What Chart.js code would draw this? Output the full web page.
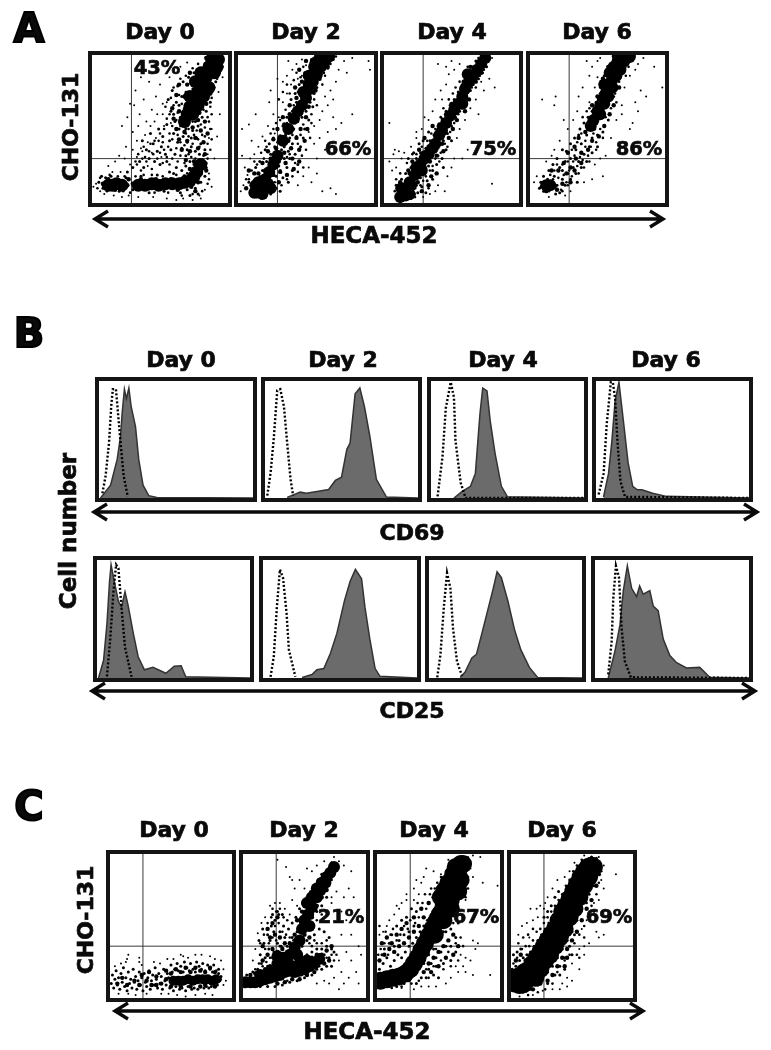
<!DOCTYPE html>
<html>
<head>
<meta charset="utf-8">
<script src="https://cdn.jsdelivr.net/npm/chart.js@4/dist/chart.umd.min.js"></script>
<style>
body { margin:0; background:#fff; }
#page { position:relative; width:771px; height:1050px; overflow:hidden; font-family:"DejaVu Sans",sans-serif; font-weight:bold; color:#0a0a0a; }
canvas { position:absolute; border:4px solid #151515; }
.t { position:absolute; transform:translate(-50%,-50%); white-space:nowrap; font-size:22px; line-height:1; z-index:5; -webkit-text-stroke:0.7px #0a0a0a; }
.v { transform:translate(-50%,-50%) rotate(-90deg); }
.big { font-size:40px; -webkit-text-stroke:2px #000; }
.pct { font-size:19.5px; }
svg { position:absolute; left:0; top:0; z-index:4; }
</style>
</head>
<body>
<div id="page">
<div class="t big" style="left:29px;top:28px">A</div>
<div class="t big" style="left:29px;top:333px">B</div>
<div class="t big" style="left:29px;top:806px">C</div>

<div class="t" style="left:160px;top:32px">Day 0</div>
<div class="t" style="left:306px;top:32px">Day 2</div>
<div class="t" style="left:452px;top:32px">Day 4</div>
<div class="t" style="left:597px;top:32px">Day 6</div>
<div class="t" style="left:181px;top:360px">Day 0</div>
<div class="t" style="left:343px;top:360px">Day 2</div>
<div class="t" style="left:503px;top:360px">Day 4</div>
<div class="t" style="left:666px;top:360px">Day 6</div>
<div class="t" style="left:174px;top:830px">Day 0</div>
<div class="t" style="left:304px;top:830px">Day 2</div>
<div class="t" style="left:434px;top:830px">Day 4</div>
<div class="t" style="left:562px;top:830px">Day 6</div>

<div class="t pct" style="left:157px;top:68px">43%</div>
<div class="t pct" style="left:348px;top:149px">66%</div>
<div class="t pct" style="left:493px;top:149px">75%</div>
<div class="t pct" style="left:639px;top:149px">86%</div>
<div class="t pct" style="left:341px;top:917px">21%</div>
<div class="t pct" style="left:476px;top:917px">67%</div>
<div class="t pct" style="left:609px;top:917px">69%</div>

<div class="t v" style="left:71px;top:127px">CHO-131</div>
<div class="t v" style="left:68px;top:531px;font-size:23px">Cell number</div>
<div class="t v" style="left:86px;top:920px">CHO-131</div>
<div class="t" style="left:374px;top:235px;font-size:23px">HECA-452</div>
<div class="t" style="left:412px;top:533px">CD69</div>
<div class="t" style="left:412px;top:711px">CD25</div>
<div class="t" style="left:367px;top:1031px;font-size:23px">HECA-452</div>

<svg width="771" height="1050" fill="none" stroke="#0a0a0a" stroke-width="3.4">
<path d="M95 219H663M108 211L95 219L108 227M650 211L663 219L650 227"/>
<path d="M94 512H757M107 504L94 512L107 520M744 504L757 512L744 520"/>
<path d="M92 691H755M105 683L92 691L105 699M742 683L755 691L742 699"/>
<path d="M115 1011H643M128 1003L115 1011L128 1019M630 1003L643 1011L630 1019"/>
</svg>
</div>

<script>
// x and y are percent of the panel, y counted from the bottom
var aGate = [29, 30];
var cGate = [27, 36];

// panel A, day 0
var a0Core = [[12,12],[15,12],[18,13],[22,12],[34,12],[39,12],[44,13],[49,12],[54,13],[59,13],[64,13],[68,14],[72,15],[75,18],[77,21],[80,26],[93,97],[90,94],[87,90],[84,85],[81,80],[78,75],[75,70],[72,65],[70,60],[74,60],[78,66],[82,72],[86,78],[68,55],[76,82],[80,88],[86,92],[90,88],[72,72],[80,70],[84,76],[92,92],[88,97]];
var a0Dense = [[59,64],[64,62],[69,66],[74,63],[79,61],[84,67],[60,57],[66,55],[72,57],[78,56],[83,55],[62,50],[68,48],[74,51],[80,49],[85,47],[64,43],[70,42],[76,44],[82,41],[66,36],[72,35],[78,37],[83,33],[69,29],[75,28],[81,27],[72,23],[62,73],[68,72],[74,74],[81,73],[87,74],[64,80],[70,80],[77,82],[83,84],[90,87],[72,88],[79,90],[85,93],[90,96],[84,98],[95,95],[8,13],[20,15],[26,12],[30,13],[36,16],[42,10],[47,16],[52,10],[58,16],[63,9],[68,18],[73,11],[78,14],[80,20],[84,22],[27,16],[76,8],[12,16],[17,9]];
var a0Mid = [[58,62],[61,55],[64,50],[67,45],[70,41],[73,38],[76,35],[79,33],[62,68],[66,72],[68,64],[71,54],[74,49],[77,44],[80,40],[83,36],[60,47],[63,41],[66,37],[69,32],[72,28],[75,26],[81,29],[84,27],[78,52],[81,58],[84,62],[87,68],[65,58],[69,50],[73,44],[56,70],[59,76],[63,79],[67,82],[71,85],[75,88],[79,91],[83,94],[88,86],[91,82],[86,74],[45,40],[48,35],[51,38],[54,33],[42,30],[46,28],[50,26],[55,28],[58,36],[40,36],[37,42],[43,47],[52,45],[49,50],[55,53],[35,28],[30,24],[26,21],[38,24],[8,10],[10,17],[14,18],[20,8],[25,17],[30,9],[36,18],[42,7],[48,19],[53,8],[60,20],[65,7],[70,9],[76,10],[80,14],[83,18],[84,24],[72,5],[78,6],[5,14],[7,18],[66,22],[62,24],[57,21],[69,25],[61,33],[57,42],[70,36],[76,55],[60,60],[64,66]];
var a0More = [[57,26],[63,28],[68,27],[73,31],[78,25],[85,30],[55,31],[59,30],[65,32],[71,33],[76,30],[82,32],[87,36],[53,36],[56,38],[62,37],[68,39],[74,40],[79,38],[85,40],[52,41],[59,43],[65,41],[71,45],[78,43],[83,45],[88,43],[50,47],[57,47],[63,46],[69,47],[75,46],[81,46],[87,50],[53,50],[59,52],[65,52],[71,50],[77,49],[83,51],[86,55],[55,57],[62,56],[68,59],[74,55],[80,53],[85,58],[88,60],[57,60],[63,61],[67,62],[72,61],[77,62],[82,63],[87,65],[54,65],[60,66],[66,67],[71,69],[76,67],[83,69],[88,71],[58,71],[64,73],[69,75],[74,77],[79,78],[86,81],[90,78],[60,78],[65,84],[69,86],[74,91],[78,94],[82,89],[94,88],[92,84],[96,92],[33,26],[36,22],[40,28],[44,23],[48,30],[52,27],[34,33],[38,38],[42,35],[46,42],[50,34],[32,28],[37,30],[45,33],[49,42],[43,40],[39,31],[4,10],[6,17],[11,8],[13,19],[19,18],[23,8],[24,18],[28,7],[32,18],[38,19],[44,19],[46,7],[52,18],[56,7],[62,19],[66,5],[70,20],[74,6],[81,8],[85,13],[86,16]];
var a0Sparse = [[22,52],[26,58],[28,67],[30,48],[32,76],[35,60],[38,70],[40,55],[44,63],[47,72],[50,80],[42,82],[36,85],[33,42],[25,38],[20,32],[17,28],[24,30],[12,25],[6,8],[3,13],[9,6],[16,5],[27,5],[34,4],[55,3],[62,2],[74,2],[80,3],[86,20],[88,11],[90,30],[92,45],[94,60],[93,75],[96,85],[52,60],[57,85],[60,90],[65,92],[70,95],[55,68],[46,55],[43,52],[39,46],[34,52],[30,36],[28,26],[31,66],[37,35],[41,41],[47,44],[53,52],[48,60],[44,34],[41,25],[36,37],[33,31],[51,31],[52,67],[58,54],[88,50],[86,44],[85,33],[83,9],[79,5],[67,3],[45,4],[22,4],[1,11],[15,21],[21,21]];

// panel A, day 2
var a2Core = [[14,10],[17,8],[19,12],[15,14],[20,16],[23,21],[26,26],[29,32],[47,66],[50,71],[53,77],[55,82],[58,87],[61,92],[64,96],[67,99],[52,86],[56,92],[60,98],[33,42],[37,50],[41,57],[44,62],[48,75],[52,80],[57,95],[12,7],[13,12],[18,6],[22,13],[24,10]];
var a2Dense = [[15,20],[20,22],[26,19],[31,21],[36,19],[41,23],[18,27],[24,30],[30,28],[35,27],[40,30],[45,28],[22,35],[28,37],[34,34],[39,37],[45,36],[26,43],[31,45],[37,42],[43,44],[49,42],[29,50],[34,53],[40,50],[46,50],[51,50],[33,58],[38,60],[44,57],[50,58],[38,66],[43,71],[52,65],[42,78],[47,82],[57,76],[60,84],[45,90],[50,96],[66,92],[10,12],[24,8],[30,14],[12,20],[6,10],[8,22]];
var a2Mid = [[10,8],[12,15],[22,10],[25,14],[28,18],[31,22],[18,22],[21,28],[24,33],[27,38],[30,25],[34,30],[37,35],[40,40],[43,45],[32,36],[35,46],[38,44],[30,44],[33,52],[36,58],[40,62],[43,68],[46,73],[49,78],[44,55],[47,58],[50,62],[53,68],[41,50],[45,62],[26,44],[23,40],[20,36],[29,50],[34,38],[38,30],[42,33],[46,38],[36,24],[40,22],[44,26],[33,17],[37,14],[28,10],[31,8],[24,6],[19,4],[14,4],[8,14],[16,28],[13,24],[56,74],[58,78],[60,84],[63,88],[66,91],[70,97],[49,50],[52,56],[48,44],[55,65],[42,74],[39,70],[45,80],[49,88]];
var a2More = [[8,16],[11,10],[16,18],[22,17],[27,14],[32,12],[36,16],[40,18],[44,21],[48,24],[14,26],[19,30],[25,27],[31,31],[36,31],[42,27],[47,32],[17,34],[21,38],[27,34],[33,40],[38,33],[44,40],[50,36],[24,47],[29,41],[35,49],[40,46],[46,46],[53,44],[28,54],[31,56],[36,54],[42,54],[48,53],[54,54],[35,63],[41,66],[47,62],[54,60],[58,66],[38,74],[44,75],[50,68],[56,70],[41,83],[46,85],[50,83],[62,80],[43,88],[48,92],[54,97],[64,86],[68,94],[72,99],[33,75],[36,80],[30,70],[26,50],[20,42],[12,28],[10,22],[6,16],[17,3]];
var a2Sparse = [[3,32],[5,24],[7,19],[4,12],[2,8],[9,30],[12,33],[15,38],[18,45],[10,42],[22,52],[26,60],[30,58],[33,68],[36,74],[39,80],[36,86],[40,90],[43,94],[47,97],[50,93],[47,86],[44,84],[33,82],[37,96],[52,48],[56,52],[60,56],[62,62],[66,66],[70,70],[68,76],[72,82],[74,90],[78,96],[84,98],[96,96],[97,90],[80,88],[60,44],[66,48],[72,50],[64,36],[58,30],[52,24],[48,18],[54,14],[44,12],[62,8],[68,10],[72,6],[58,20],[23,68],[3,50],[8,53],[13,60],[24,76],[29,84],[27,47],[64,72],[70,58],[76,54],[84,60],[56,40]];

// panel A, day 4
var a4Core = [[14,7],[17,10],[16,5],[20,12],[23,19],[27,26],[30,30],[38,40],[43,49],[46,54],[49,59],[52,63],[55,67],[58,72],[60,77],[63,82],[66,86],[69,90],[72,94],[75,98],[62,87],[58,67],[33,33],[36,37],[41,46],[12,4],[19,6],[13,10],[19,14],[24,24],[28,22]];
var a4Dense = [[12,14],[19,20],[25,14],[30,24],[35,18],[24,24],[29,34],[34,28],[39,32],[44,35],[33,38],[38,45],[43,40],[48,44],[41,53],[36,52],[30,44],[26,36],[51,50],[54,56],[46,60],[50,67],[60,62],[63,70],[21,28],[18,22],[10,10],[22,6],[28,8],[33,12],[39,20],[68,82],[72,88],[59,82],[64,92]];
var a4Mid = [[10,6],[12,12],[18,16],[21,8],[24,12],[27,17],[30,20],[33,25],[20,24],[24,30],[27,34],[31,37],[34,32],[37,36],[40,32],[34,42],[37,46],[41,44],[44,42],[47,47],[50,52],[40,52],[43,57],[46,62],[49,66],[52,70],[53,58],[56,62],[55,75],[58,80],[61,70],[64,76],[66,80],[70,84],[73,88],[76,92],[60,86],[64,92],[68,96],[26,40],[29,42],[33,48],[22,34],[16,20],[13,16],[9,12],[25,7],[28,11],[32,15],[36,22],[39,26],[43,30],[46,36],[50,42],[44,24],[36,16],[20,3],[14,2],[31,7],[18,30]];
var a4More = [[8,8],[11,3],[15,12],[18,3],[21,16],[23,10],[26,20],[29,15],[31,28],[34,22],[35,35],[38,30],[40,37],[42,34],[45,40],[47,52],[42,58],[44,64],[48,70],[51,74],[53,78],[56,82],[54,64],[58,64],[61,74],[65,78],[68,78],[71,86],[74,90],[77,96],[70,98],[66,92],[62,92],[24,33],[28,38],[21,33],[17,27],[12,20],[9,16],[32,42],[35,47],[38,50],[42,50],[49,48],[52,54],[55,60],[60,68],[47,38],[41,28],[36,25],[31,18],[27,12],[23,4],[33,10]];
var a4Sparse = [[4,54],[8,36],[7,33],[11,35],[15,34],[20,38],[24,48],[28,50],[30,58],[36,62],[38,70],[42,76],[46,80],[48,87],[52,90],[56,94],[40,94],[46,92],[50,96],[72,82],[78,84],[82,78],[80,98],[74,76],[68,70],[64,64],[70,60],[60,56],[56,50],[54,44],[62,36],[58,30],[52,30],[50,24],[47,18],[40,12],[38,8],[45,8],[80,13],[4,28],[13,30],[6,22],[9,24],[29,4],[34,6],[24,44],[33,56],[43,70]];

// panel A, day 6
var a6Core = [[50,62],[52,66],[54,70],[56,74],[58,78],[60,82],[62,86],[64,90],[66,94],[68,98],[71,99],[55,80],[59,88],[47,56],[45,52],[12,12],[15,12],[52,60],[55,67],[58,72],[61,78],[64,86],[67,90],[70,96],[74,99],[65,99],[62,92]];
var a6Dense = [[12,8],[16,14],[20,9],[24,13],[27,20],[21,22],[25,27],[30,24],[34,30],[28,34],[33,38],[38,34],[43,36],[36,44],[41,48],[46,42],[51,45],[55,52],[44,55],[49,54],[59,60],[62,66],[46,66],[50,72],[66,78],[54,84],[58,92],[62,96],[70,92],[74,96],[33,22],[38,27],[16,22],[30,14]];
var a6Mid = [[10,8],[13,16],[16,10],[18,18],[20,12],[22,24],[24,16],[26,28],[28,20],[30,30],[32,24],[34,36],[36,28],[38,40],[40,33],[42,46],[44,38],[46,44],[48,50],[50,46],[37,50],[40,54],[43,58],[30,40],[33,44],[36,46],[46,62],[49,68],[52,74],[55,86],[57,90],[60,94],[63,98],[67,86],[70,90],[72,95],[64,82],[60,76],[56,66],[53,58],[20,30],[24,36],[27,35],[17,26],[14,22],[10,18],[8,14],[22,7],[26,12],[30,16],[34,20],[38,24],[42,28],[46,34],[50,38],[54,48],[58,56],[62,72],[7,10],[19,6],[24,22],[35,14]];
var a6More = [[8,11],[11,14],[14,8],[17,16],[19,11],[21,17],[23,9],[25,19],[27,14],[29,22],[31,18],[32,28],[35,25],[37,31],[39,29],[41,38],[43,32],[45,38],[47,47],[49,41],[52,50],[54,44],[56,58],[35,41],[38,47],[41,42],[44,50],[39,58],[42,62],[47,52],[50,58],[52,78],[48,62],[44,64],[56,88],[58,82],[60,90],[63,74],[66,82],[68,88],[71,86],[73,92],[76,96],[64,68],[60,64],[28,28],[24,26],[20,26],[15,19],[18,22],[31,36],[33,32],[49,36],[44,28],[40,24],[36,20],[28,12],[24,8]];
var a6Sparse = [[9,70],[19,72],[18,66],[25,56],[28,50],[22,42],[18,36],[16,32],[32,56],[35,62],[36,72],[39,78],[44,68],[48,78],[50,85],[44,86],[46,92],[52,98],[42,96],[50,96],[70,78],[74,86],[78,90],[80,94],[84,98],[92,92],[98,78],[86,72],[80,62],[76,54],[74,50],[68,60],[64,56],[60,44],[66,40],[56,32],[52,30],[48,26],[54,18],[46,16],[40,14],[30,8],[26,5],[14,4],[5,18],[3,14],[12,28],[78,68],[82,76],[68,66]];

// panel C, day 0
var c0Core = [[52,12],[56,12],[60,12],[64,13],[68,12],[72,13],[76,13],[80,13],[84,12],[87,13]];
var c0Dense = [[30,12],[34,9],[38,15],[42,10],[46,13],[50,8],[50,17],[54,20],[58,8],[58,18],[62,21],[66,8],[66,18],[70,21],[74,8],[74,19],[78,9],[78,18],[82,21],[86,8],[86,18],[90,13],[46,19],[38,9],[10,14],[6,10],[20,12],[26,16],[14,9],[24,9],[32,18]];
var c0Mid = [[1,10],[2,16],[3,7],[4,13],[5,19],[6,9],[7,14],[8,6],[9,17],[10,11],[11,21],[12,8],[13,14],[14,5],[15,18],[16,10],[17,13],[18,7],[19,20],[20,11],[21,15],[22,6],[23,12],[24,18],[25,9],[26,14],[27,5],[28,17],[29,11],[30,8],[31,14],[32,19],[33,6],[34,12],[35,16],[36,9],[37,21],[38,13],[39,7],[40,17],[41,10],[42,15],[43,6],[44,20],[45,12],[46,9],[47,17],[48,14],[49,7],[50,23],[51,18],[52,5],[53,20],[54,8],[55,24],[56,19],[57,6],[58,22],[59,7],[60,18],[61,25],[62,5],[63,21],[64,8],[65,19],[66,24],[67,6],[68,20],[69,7],[70,18],[71,25],[72,6],[73,22],[74,8],[75,20],[76,24],[77,7],[78,19],[79,8],[80,23],[81,7],[82,20],[83,8],[84,18],[85,23],[86,8],[87,19],[88,9],[89,17],[90,12],[91,15],[89,20]];
var c0More = [];
var c0Sparse = [[4,22],[9,24],[13,25],[15,30],[14,27],[24,25],[26,23],[24,28],[7,3],[15,3],[21,2],[30,3],[42,3],[48,3],[55,2],[62,1],[70,2],[78,3],[84,2],[60,29],[64,28],[58,30],[70,30],[75,30],[82,29],[86,27],[91,26],[93,20],[95,12],[93,9],[47,27],[52,27],[41,24],[36,25]];

// panel C, day 2
var c2Core = [[2,11],[6,11],[10,11],[14,12],[18,13],[22,14],[26,15],[30,16],[34,18],[38,19],[42,18],[46,19],[50,20],[54,22],[58,24],[62,27],[28,24],[33,28],[38,30],[42,35],[46,40],[48,48],[50,54],[53,58],[56,63],[60,70],[63,75],[67,80],[71,87],[74,91],[14,16],[22,18],[30,20],[38,23],[46,24],[28,29],[34,24],[44,30],[52,26],[54,50],[52,66],[56,70],[60,76],[64,80],[68,84]];
var c2Dense = [[6,16],[10,17],[14,18],[18,20],[22,22],[26,22],[30,24],[16,26],[20,30],[24,34],[28,32],[32,34],[36,26],[40,24],[44,24],[48,26],[52,28],[56,28],[60,30],[64,30],[68,33],[72,36],[22,42],[26,44],[30,42],[34,38],[38,38],[42,44],[46,48],[50,44],[54,42],[44,54],[48,60],[52,64],[56,56],[60,64],[64,70],[68,75],[58,70],[62,80],[66,84],[70,84],[16,36],[20,48],[24,52],[28,56],[66,24],[70,26],[52,16],[46,13],[40,13],[34,11],[28,10],[58,18]];
var c2Mid = [[8,18],[12,20],[15,24],[18,28],[21,34],[14,30],[17,38],[20,44],[23,50],[26,54],[29,58],[13,40],[16,48],[22,40],[25,46],[28,38],[31,36],[34,42],[37,48],[40,52],[43,56],[46,62],[49,66],[52,70],[55,74],[58,78],[61,82],[64,86],[68,88],[72,94],[44,46],[40,42],[36,36],[30,46],[33,50],[24,58],[28,60],[32,58],[20,22],[24,28],[44,26],[48,28],[52,30],[56,32],[60,34],[64,34],[68,36],[72,34],[66,30],[70,28],[74,32],[60,20],[64,20],[68,22],[72,22],[56,16],[50,14],[44,12],[38,11],[32,9],[26,8],[20,8],[14,8],[8,8],[3,16],[47,52],[55,48],[58,44],[52,40],[48,36],[60,60],[64,64],[68,70],[55,56],[62,48],[66,46],[70,42]];
var c2More = [[10,20],[13,24],[16,22],[19,25],[22,28],[25,32],[18,34],[21,38],[24,42],[27,40],[30,36],[14,38],[17,44],[20,52],[23,56],[26,50],[29,52],[32,46],[35,44],[38,42],[41,40],[27,60],[30,62],[33,56],[36,54],[24,62],[56,36],[60,38],[64,38],[68,40],[72,30],[74,26],[76,30],[54,38],[58,40],[50,46],[52,52],[46,54],[60,54],[64,58],[50,58],[58,66],[62,74],[70,78],[72,82],[74,86],[66,78],[76,92],[20,18],[36,12],[48,16],[62,22],[68,28]];
var c2Sparse = [[10,34],[8,26],[12,45],[15,52],[18,56],[22,64],[26,66],[30,66],[34,62],[38,58],[40,68],[42,76],[38,84],[40,82],[35,91],[28,96],[52,90],[56,88],[60,92],[66,95],[74,98],[78,95],[82,92],[88,88],[86,76],[90,70],[82,70],[76,74],[72,66],[80,60],[84,54],[88,44],[80,44],[94,36],[96,30],[78,26],[84,32],[88,26],[80,18],[86,14],[92,18],[82,10],[78,6],[70,10],[74,14],[66,12],[60,10],[94,10],[72,70],[78,54],[44,64],[50,76],[46,82]];

// panel C, day 4
var c4Core = [[3,12],[8,13],[13,14],[18,15],[23,17],[27,20],[30,24],[33,28],[36,33],[39,38],[42,43],[45,48],[48,53],[51,58],[54,63],[56,68],[59,73],[61,78],[64,83],[66,88],[68,93],[70,93],[47,44],[54,54],[60,68],[65,78],[52,70],[55,75],[58,80],[62,86],[64,91],[66,74],[68,82],[60,62]];
var c4Dense = [[2,26],[6,30],[10,34],[14,32],[18,36],[22,38],[26,42],[30,46],[34,50],[38,56],[4,38],[8,42],[12,38],[16,44],[20,48],[24,52],[30,56],[36,62],[42,66],[46,70],[42,24],[46,28],[50,32],[54,36],[58,40],[62,44],[38,18],[44,18],[50,22],[56,28],[62,30],[66,36],[36,24],[60,58],[64,66],[68,72],[70,88],[72,82],[50,74],[54,82],[58,88],[62,94]];
var c4Mid = [[2,20],[5,24],[8,28],[11,22],[14,26],[17,30],[20,28],[23,32],[26,36],[29,38],[32,42],[35,46],[38,50],[41,54],[44,58],[47,62],[50,68],[53,74],[56,78],[59,84],[62,90],[65,94],[72,92],[70,84],[68,78],[66,72],[62,62],[58,56],[54,46],[50,40],[46,34],[42,30],[38,24],[34,20],[30,16],[26,12],[22,10],[38,28],[44,24],[48,28],[52,32],[56,36],[60,36],[64,32],[42,20],[48,22],[54,24],[60,26],[36,14],[40,14],[46,16],[50,14],[32,10],[6,34],[10,38],[14,36],[18,40],[22,44],[26,46],[30,50],[4,30],[12,44],[16,50],[20,54],[24,56],[28,62],[32,60],[8,8],[16,8],[60,48],[66,52],[56,46],[64,42],[50,48],[72,76]];
var c4More = [[1,30],[3,34],[6,38],[9,30],[11,44],[13,48],[16,40],[19,44],[22,50],[25,48],[27,54],[31,52],[34,56],[37,66],[40,62],[43,72],[47,76],[49,80],[52,84],[2,50],[7,46],[33,66],[39,72],[44,76],[40,20],[46,22],[52,26],[58,32],[64,38],[68,42],[70,36],[60,22],[66,26],[42,14],[54,20],[48,34],[74,84],[74,76],[72,70],[66,62],[62,52],[34,12],[28,10],[20,8],[12,7]];
var c4Sparse = [[2,44],[5,46],[8,50],[10,54],[14,58],[18,62],[16,64],[20,66],[24,68],[30,68],[34,72],[36,80],[32,82],[38,84],[40,90],[46,88],[52,86],[58,96],[74,98],[78,99],[84,98],[76,90],[78,84],[86,80],[98,78],[72,68],[74,60],[78,40],[82,38],[80,34],[68,30],[72,28],[76,26],[70,22],[64,22],[66,18],[72,18],[60,14],[56,10],[48,8],[42,8],[36,8],[92,16],[78,16],[24,72],[30,76],[10,8],[20,7],[30,6]];

// panel C, day 6
var c6Core = [[3,10],[7,9],[11,10],[14,14],[6,15],[11,18],[15,20],[18,24],[21,28],[24,32],[27,36],[30,40],[33,44],[36,48],[39,54],[42,60],[45,64],[48,69],[51,74],[54,79],[57,84],[60,88],[63,91],[66,92],[68,91],[64,84],[60,78],[56,70],[52,62],[48,56],[44,48],[40,42],[36,36],[32,30],[28,26],[24,20],[20,14]];
var c6Dense = [[1,18],[4,26],[8,30],[12,26],[16,30],[20,34],[24,40],[28,44],[32,50],[36,56],[40,62],[44,68],[48,74],[52,80],[56,86],[60,92],[62,62],[58,54],[54,46],[50,40],[46,34],[42,28],[38,22],[34,16],[30,12],[24,10],[18,6],[12,5],[66,68],[70,78],[72,86],[44,22],[46,28],[2,12]];
var c6Mid = [[1,20],[4,22],[7,26],[10,28],[13,30],[16,32],[19,36],[22,40],[25,44],[28,48],[31,52],[34,56],[37,60],[40,66],[43,70],[46,74],[49,78],[52,84],[55,88],[58,92],[62,96],[66,98],[70,97],[72,90],[70,84],[68,78],[64,72],[60,66],[57,60],[54,54],[50,46],[46,40],[42,34],[38,28],[34,22],[30,18],[26,14],[22,9],[16,6],[10,4],[40,22],[36,16],[30,10],[44,28],[48,36],[52,44],[27,56],[30,60],[33,64],[36,70],[39,74],[2,30],[5,32],[8,34],[3,5],[40,16],[44,20],[50,30]];
var c6More = [[2,24],[5,28],[9,34],[12,36],[15,36],[18,40],[21,46],[24,48],[27,52],[30,56],[33,60],[36,64],[39,68],[42,72],[45,78],[48,82],[51,88],[54,92],[58,96],[6,38],[10,42],[14,44],[18,48],[62,66],[66,64],[70,72],[72,80],[74,88],[68,60],[64,56],[60,50],[56,44],[52,38],[48,30],[44,26],[38,18],[34,10],[28,6],[22,4],[14,2],[56,28],[60,42],[54,30]];
var c6Sparse = [[6,44],[9,50],[13,52],[15,42],[18,54],[21,62],[24,64],[16,62],[22,56],[27,62],[30,70],[34,76],[38,82],[44,84],[48,88],[52,94],[60,99],[72,98],[76,92],[86,86],[74,82],[76,76],[72,68],[68,66],[66,60],[62,54],[58,48],[70,46],[72,42],[76,44],[64,38],[60,36],[56,34],[50,24],[46,14],[42,10],[46,8],[34,6],[40,6],[50,12],[56,20],[60,30],[26,5],[18,2],[7,1],[28,66]];

// panel B histograms, x and y of the curve
var cd69Day0Cells = [[1,0],[7.5,11],[11.8,33],[14,53],[15,72],[16.5,93],[17.8,85],[19.4,94],[20.9,78],[23.7,61],[25.8,33],[28.6,11],[32.3,2],[37.6,0.5],[100,0]];
var cd69Day0Control = [[2.2,4],[4.3,19],[6.5,47],[8,80],[9,93],[11,93],[12,78],[14,47],[16,19],[18.7,1]];
var cd69Day2Cells = [[14.5,0.5],[23,5],[27,4],[34,5.6],[41.6,7.3],[46,15],[50,17.8],[53.5,41.6],[55.6,47],[58.9,89],[62,94],[65,78],[68.5,53],[72.8,16],[79.4,0.8],[100,0]];
var cd69Day2Control = [[1.5,2],[3.7,22],[5.8,52],[8,92],[10,93],[12.4,78],[14.5,47],[16.7,16],[18.4,2]];
var cd69Day4Cells = [[15,0],[20.4,5.6],[22,7],[25.8,10],[29,21],[32,72],[33.8,94],[36.6,91.5],[38.7,66],[41.9,38],[46,10],[50,1],[100,0]];
var cd69Day4Control = [[4.3,1.4],[7.5,35],[9.7,77],[12.9,99],[15,86],[16,49],[19.4,13],[22.6,0],[100,0]];
var cd69Day6Cells = [[4.9,0.8],[8.2,21],[10.4,49],[12.5,83],[15,99],[17.9,66],[21,30],[24,10],[27,7],[30,7],[37,4],[46,1.4],[100,0]];
var cd69Day6Control = [[1.7,3],[5,21],[7,63],[9.7,99],[11,99],[12.5,85],[14,49],[16,14],[19,1],[100,0]];
var cd25Day0Cells = [[1,0],[4.3,15],[6.5,46],[8.2,82],[9.2,96],[10.8,85],[14,65],[16,60],[18.3,73],[20.4,61],[23.7,38],[26.9,18],[31,7],[36.6,9],[45,4],[50.5,10],[55,10.4],[58,1],[100,0]];
var cd25Day0Control = [[6.5,1.4],[8.6,32],[10.8,74],[12.5,96],[14,93],[16,60],[18.3,26],[22.6,1]];
var cd25Day2Cells = [[25.4,0.5],[31.8,3],[35,7],[39.5,8],[43.8,21],[48,38],[53,66],[56.6,82],[60,92],[64,84],[66.2,60],[69.5,32],[72.8,8],[76,1.4],[100,0]];
var cd25Day2Control = [[4.9,1],[7,18],[9,60],[11,92],[13,85],[15.3,55],[16.8,24],[21,1]];
var cd25Day4Cells = [[20.4,0.5],[23.6,5],[28,17],[31,20],[34.4,37],[38.7,59],[42,76],[44.5,90],[47.3,85],[51.6,65],[55.9,41],[60,24],[65.6,9],[71,0.5],[100,0]];
var cd25Day4Control = [[5.4,0.5],[7.5,20],[9.7,60],[11.8,89],[14,76],[15.7,42],[18.3,14],[21.5,2]];
var cd25Day6Cells = [[8.6,0],[13,23],[16.2,45],[18.4,74],[21,95],[23.8,76],[27,69],[29,78],[31.3,71],[35.6,74],[37.8,61],[41,57],[44.3,33],[48.6,19],[53,13],[59.4,8.5],[68,9],[74.5,0.6],[100,0]];
var cd25Day6Control = [[8.6,3],[10.8,31],[11.9,68],[13.6,95],[15.6,85],[17.3,42],[19.4,14],[23.3,0.6],[100,0]];

function toPoints(list){
	return list.map(function(p){ return {x:p[0], y:p[1]}; });
}

function addCanvas(left, top, w, h){
	var c = document.createElement('canvas');
	c.width = w;
	c.height = h;
	c.style.left = left+'px';
	c.style.top = top+'px';
	c.style.boxSizing = 'content-box'; // chart.js would force border-box otherwise
	document.getElementById('page').appendChild(c);
	return c.getContext('2d');
}

function baseOptions(){
	return {
		responsive:false,
		animation:false,
		events:[],
		layout:{padding:0, autoPadding:false},
		plugins:{legend:{display:false}, tooltip:{enabled:false}},
		scales:{
			x:{type:'linear', min:0, max:100, display:false},
			y:{type:'linear', min:0, max:100, display:false}
		}
	};
}

function cloud(list, r){
	return {type:'scatter', data:toPoints(list), pointRadius:r, pointBackgroundColor:'#000', pointBorderWidth:0};
}

function gateLine(xs, ys){
	return {type:'line', data:toPoints(xs.map(function(v,i){ return [v, ys[i]]; })), borderColor:'#3a3a3a', borderWidth:1, pointRadius:0};
}

function dotPanel(left, top, w, h, core, coreR, dense, mid, more, sparse, gate){
	new Chart(addCanvas(left, top, w, h), {
		type:'scatter',
		data:{datasets:[
			cloud(sparse, 1),
			cloud(more, 1.3),
			cloud(mid, 1.5),
			cloud(dense, 2.2),
			cloud(core, coreR),
			gateLine([gate[0],gate[0]], [0,100]),
			gateLine([0,100], [gate[1],gate[1]])
		]},
		options:baseOptions()
	});
}

function histPanel(left, top, w, h, cells, control){
	new Chart(addCanvas(left, top, w, h), {
		type:'line',
		data:{datasets:[
			{data:toPoints(control), borderColor:'#000', borderWidth:2.4, borderDash:[2,2], pointRadius:0, tension:0, order:1},
			{data:toPoints(cells), borderColor:'#333', borderWidth:1.5, backgroundColor:'#6b6b6b', fill:'origin', pointRadius:0, tension:0, order:2}
		]},
		options:baseOptions()
	});
}

dotPanel(88,51,136,148, a0Core,6.5, a0Dense, a0Mid, a0More, a0Sparse, aGate);
dotPanel(234,51,136,148, a2Core,6, a2Dense, a2Mid, a2More, a2Sparse, aGate);
dotPanel(380,51,135,148, a4Core,6, a4Dense, a4Mid, a4More, a4Sparse, aGate);
dotPanel(526,51,135,148, a6Core,6, a6Dense, a6Mid, a6More, a6Sparse, aGate);

histPanel(95,377,154,117, cd69Day0Cells, cd69Day0Control);
histPanel(261,377,153,117, cd69Day2Cells, cd69Day2Control);
histPanel(427,377,153,117, cd69Day4Cells, cd69Day4Control);
histPanel(592,377,153,117, cd69Day6Cells, cd69Day6Control);
histPanel(93,556,153,118, cd25Day0Cells, cd25Day0Control);
histPanel(259,556,154,118, cd25Day2Cells, cd25Day2Control);
histPanel(425,556,153,118, cd25Day4Cells, cd25Day4Control);
histPanel(591,556,154,118, cd25Day6Cells, cd25Day6Control);

dotPanel(106,850,122,144, c0Core,5, c0Dense, c0Mid, c0More, c0Sparse, cGate);
dotPanel(239,850,123,144, c2Core,6, c2Dense, c2Mid, c2More, c2Sparse, cGate);
dotPanel(373,850,123,144, c4Core,9, c4Dense, c4Mid, c4More, c4Sparse, cGate);
dotPanel(507,850,122,144, c6Core,9, c6Dense, c6Mid, c6More, c6Sparse, cGate);
</script>
</body>
</html>
